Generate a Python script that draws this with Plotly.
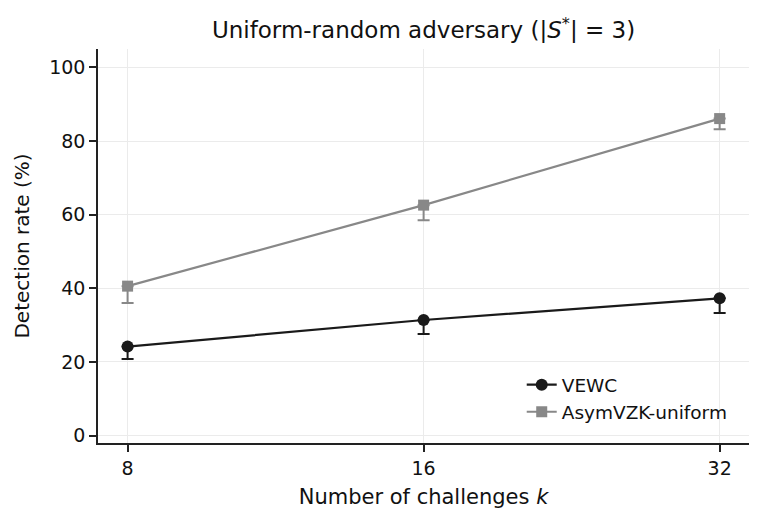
import plotly.graph_objects as go

k_values = [8, 16, 32]

vewc_rate = [24.2, 31.4, 37.3]
vewc_err_lo = [3.4, 3.8, 4.0]
vewc_err_hi = [0.0, 0.0, 0.0]

asym_rate = [40.6, 62.6, 86.1]
asym_err_lo = [4.6, 4.1, 2.9]
asym_err_hi = [0.0, 0.0, 0.0]

FONT = "DejaVu Sans"

fig = go.Figure()
fig.add_trace(go.Scatter(
    x=k_values, y=vewc_rate, name="VEWC", mode="lines+markers",
    line=dict(color="#1a1a1a", width=2.2),
    marker=dict(symbol="circle", size=12, color="#1a1a1a"),
    error_y=dict(type="data", symmetric=False, array=vewc_err_hi, arrayminus=vewc_err_lo,
                 color="#1a1a1a", thickness=2, width=6),
))
fig.add_trace(go.Scatter(
    x=k_values, y=asym_rate, name="AsymVZK-uniform", mode="lines+markers",
    line=dict(color="#888888", width=2.2),
    marker=dict(symbol="square", size=11, color="#888888"),
    error_y=dict(type="data", symmetric=False, array=asym_err_hi, arrayminus=asym_err_lo,
                 color="#888888", thickness=2, width=6),
))

# the page body adds an 8px margin, so the figure is drawn 8px smaller and offset
fig.update_layout(
    width=755, height=517,
    margin=dict(l=90, r=14, t=41, b=82),
    paper_bgcolor="white", plot_bgcolor="white",
    font=dict(family=FONT, size=19, color="#111111"),
    title=dict(text="Uniform-random adversary (|<i>S</i><sup>*</sup>| = 3)",
               x=0.5, xref="paper", xanchor="center", y=0.957, yanchor="middle",
               font=dict(size=23)),
    legend=dict(x=0.975, y=0.03, xanchor="right", yanchor="bottom",
                bgcolor="rgba(0,0,0,0)", font=dict(size=18.5), tracegroupgap=0),
    showlegend=True,
)
fig.update_xaxes(
    type="log", range=[0.873, 1.535],
    tickvals=k_values, ticktext=[str(v) for v in k_values],
    showline=True, linecolor="#222222", linewidth=1.6, mirror=False,
    ticks="outside", ticklen=7, tickwidth=1.5, tickcolor="#222222",
    showgrid=True, gridcolor="#ebebeb", gridwidth=1, zeroline=False,
    title=dict(text="Number of challenges <i>k</i>", font=dict(size=21), standoff=12),
)
fig.update_yaxes(
    range=[-2, 105], tickvals=[0, 20, 40, 60, 80, 100],
    showline=True, linecolor="#222222", linewidth=1.6, mirror=False,
    ticks="outside", ticklen=7, tickwidth=1.5, tickcolor="#222222",
    showgrid=True, gridcolor="#ebebeb", gridwidth=1, zeroline=False,
    title=dict(text="Detection rate (%)", font=dict(size=20), standoff=14),
)

fig.write_html("out.html")
